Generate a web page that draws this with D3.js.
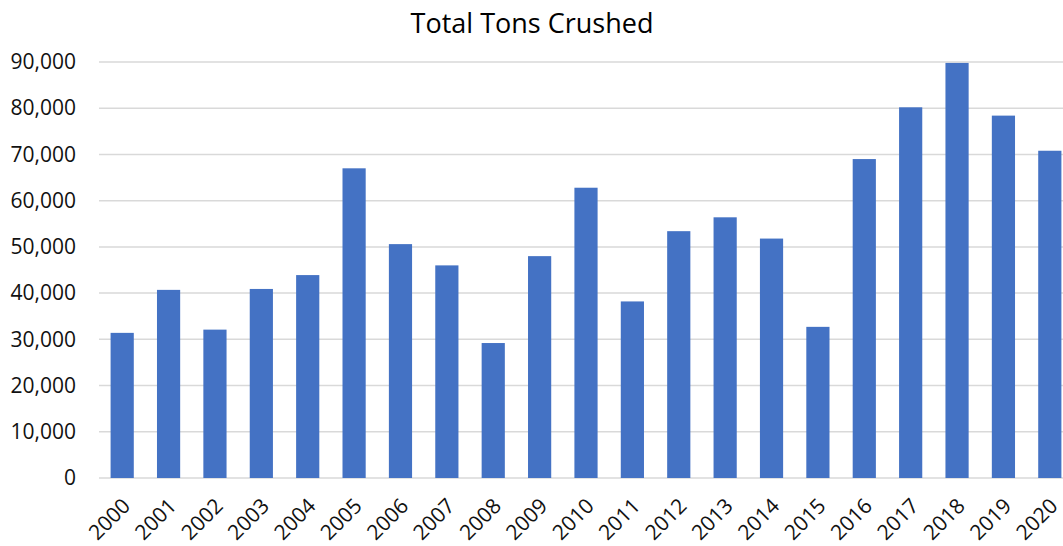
<!DOCTYPE html>
<html>
<head>
<style>
    body { margin: 0; background: #fff; overflow: hidden; }
    svg { display: block; font-family: "Open Sans", sans-serif; }
</style>
</head>
<body>
    <svg width="1063" height="546"></svg>
    <script src="https://d3js.org/d3.v7.min.js"></script>
    <script>
    var years = ["2000", "2001", "2002", "2003", "2004", "2005", "2006", "2007", "2008", "2009", "2010",
                 "2011", "2012", "2013", "2014", "2015", "2016", "2017", "2018", "2019", "2020"];
    var tons = [31400, 40700, 32100, 40900, 43900, 67000, 50600, 46000, 29200, 48000, 62800,
                38200, 53400, 56400, 51800, 32700, 69000, 80200, 89800, 78400, 70800];
    var yTicks = [0, 10000, 20000, 30000, 40000, 50000, 60000, 70000, 80000, 90000];

    var svg = d3.select("svg"),
        plotLeft = 99,
        plotRight = 1073,
        plotTop = 62,
        plotBottom = 478;

    var x = d3.scaleBand()
        .domain(years)
        .range([plotLeft, plotRight])
        .paddingInner(0.5)
        .paddingOuter(0.25);

    var y = d3.scaleLinear()
        .domain([0, 90000])
        .range([plotBottom, plotTop]);

    // gridlines
    svg.append("g")
        .selectAll("line")
        .data(yTicks)
        .join("line")
        .attr("x1", plotLeft)
        .attr("x2", plotRight)
        .attr("y1", function(d) { return y(d); })
        .attr("y2", function(d) { return y(d); })
        .attr("stroke", "#d9d9d9")
        .attr("stroke-width", 1.5);

    // y axis labels
    var yAxis = d3.axisLeft(y)
        .tickValues(yTicks)
        .tickFormat(d3.format(","))
        .tickSize(0)
        .tickPadding(23);
    svg.append("g")
        .attr("transform", "translate(" + plotLeft + ",0)")
        .call(yAxis)
        .call(function(g) { g.select(".domain").remove(); })
        .selectAll("text")
        .attr("font-family", "Open Sans")
        .attr("font-size", 21)
        .attr("fill", "#111");

    // bars
    svg.append("g")
        .selectAll("rect")
        .data(tons)
        .join("rect")
        .attr("x", function(d, i) { return x(years[i]); })
        .attr("y", function(d) { return y(d); })
        .attr("width", x.bandwidth())
        .attr("height", function(d) { return y(0) - y(d); })
        .attr("fill", "#4472c4");

    // x axis labels, rotated
    var xAxis = d3.axisBottom(x).tickSize(0).tickPadding(0);
    svg.append("g")
        .attr("transform", "translate(0," + plotBottom + ")")
        .call(xAxis)
        .call(function(g) { g.select(".domain").remove(); })
        .selectAll("text")
        .attr("font-family", "Open Sans")
        .attr("font-size", 21)
        .attr("fill", "#111")
        .attr("text-anchor", "end")
        .attr("dy", "0.35em")
        .attr("transform", "translate(4,24) rotate(-45)");

    svg.append("text")
        .attr("x", 532)
        .attr("y", 33)
        .attr("text-anchor", "middle")
        .attr("font-size", 27)
        .attr("fill", "#000")
        .text("Total Tons Crushed");
    </script>
</body>
</html>
